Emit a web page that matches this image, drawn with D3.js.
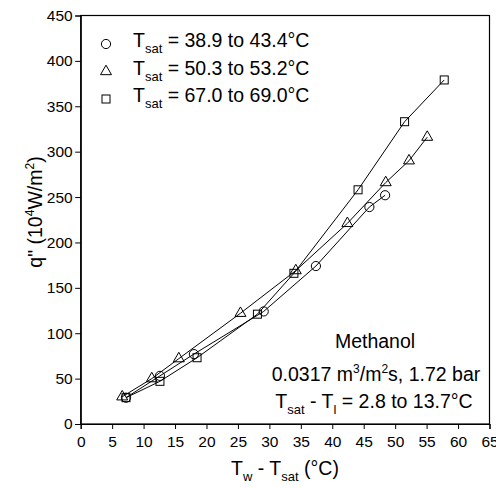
<!DOCTYPE html>
<html>
<head>
<meta charset="utf-8">
<script src="https://cdn.jsdelivr.net/npm/d3@7"></script>
<style>
  body { margin: 0; background: #fff; }
  svg { font-family: "Liberation Sans", Arial, sans-serif; }
</style>
</head>
<body>
<svg id="chart" width="496" height="488"></svg>
<script>
// data
const circleX = [7.2, 12.6, 18.0, 29.1, 37.4, 45.9, 48.4];
const circleY = [29, 53, 77, 124, 174, 239, 252];
const triX = [6.6, 11.3, 15.6, 25.4, 34.2, 42.4, 48.5, 52.2, 55.1];
const triY = [30, 50, 72, 122, 169, 221, 266, 290, 316];
const sqX = [7.2, 12.6, 18.5, 28.1, 33.9, 44.1, 51.5, 57.8];
const sqY = [29, 47, 73, 121, 166, 258, 333, 379];
const legendLabels = [
  ['38.9', '43.4'],
  ['50.3', '53.2'],
  ['67.0', '69.0']
];
const xTicks = d3.range(0, 66, 5);
const yTicks = d3.range(0, 451, 50);

const margin = { top: 15.5, right: 6.5, bottom: 64, left: 80.7 };
const W = 496, H = 488;
const big = '19.5px', sub = '13px', sup = '12px';

const svg = d3.select('#chart');

const x = d3.scaleLinear()
  .domain([0, 65])
  .range([margin.left, W - margin.right]);

const y = d3.scaleLinear()
  .domain([0, 450])
  .range([H - margin.bottom, margin.top]);

// frame
svg.append('rect')
  .attr('x', x(0))
  .attr('y', y(450))
  .attr('width', x(65) - x(0))
  .attr('height', y(0) - y(450))
  .attr('fill', 'none')
  .attr('stroke', '#000')
  .attr('stroke-width', 1.2);

const xAxis = svg.append('g')
  .attr('transform', `translate(0, ${y(0)})`)
  .call(d3.axisBottom(x).tickValues(xTicks).tickSize(5).tickPadding(6.5));

const yAxis = svg.append('g')
  .attr('transform', `translate(${x(0)}, 0)`)
  .call(d3.axisLeft(y).tickValues(yTicks).tickSize(5.5).tickPadding(2.5));

[xAxis, yAxis].forEach(a => {
  a.select('.domain').attr('stroke', '#000').attr('stroke-width', 1.2);
  a.selectAll('.tick line').attr('stroke', '#000');
  a.selectAll('.tick text')
    .attr('fill', '#000')
    .style('font-size', '15.5px')
    .style('font-family', '"Liberation Sans", Arial, sans-serif');
});

// series
const series = [
  { xs: circleX, ys: circleY, shape: 'circle' },
  { xs: triX, ys: triY, shape: 'triangle' },
  { xs: sqX, ys: sqY, shape: 'square' }
];

const line = d3.line()
  .x(d => x(d[0]))
  .y(d => y(d[1]));

function drawMarker(g, shape, cx, cy) {
  if (shape === 'circle') {
    g.append('circle')
      .attr('cx', cx).attr('cy', cy).attr('r', 4.6)
      .attr('fill', 'none').attr('stroke', '#000').attr('stroke-width', 1);
  } else if (shape === 'triangle') {
    g.append('path')
      .attr('d', d3.symbol().type(d3.symbolTriangle).size(52)())
      .attr('transform', `translate(${cx}, ${cy})`)
      .attr('fill', 'none').attr('stroke', '#000').attr('stroke-width', 1);
  } else {
    g.append('rect')
      .attr('x', cx - 4).attr('y', cy - 4)
      .attr('width', 8).attr('height', 8)
      .attr('fill', 'none').attr('stroke', '#000').attr('stroke-width', 1);
  }
}

series.forEach(s => {
  const pts = s.xs.map((v, i) => [v, s.ys[i]]);
  svg.append('path')
    .datum(pts)
    .attr('d', line)
    .attr('fill', 'none')
    .attr('stroke', '#000')
    .attr('stroke-width', 1);
  const g = svg.append('g');
  pts.forEach(p => drawMarker(g, s.shape, x(p[0]), y(p[1])));
});

// legend
const legend = svg.append('g');
legendLabels.forEach((lab, i) => {
  const ly = 44 + i * 27.5;
  drawMarker(legend, series[i].shape, 106, ly);
  const t = legend.append('text')
    .attr('x', 133)
    .attr('y', ly + 3)
    .style('font-size', big)
    .attr('fill', '#000');
  t.append('tspan').text('T');
  t.append('tspan').attr('dy', 6).style('font-size', sub).text('sat');
  t.append('tspan').attr('dy', -6).text(` = ${lab[0]} to ${lab[1]}°C`);
});

// annotations
const ann = svg.append('g').attr('text-anchor', 'middle').attr('fill', '#000').style('font-size', big);
ann.append('text').attr('x', 375).attr('y', 347.5).text('Methanol');

const a2 = ann.append('text').attr('x', 376).attr('y', 381);
a2.append('tspan').text('0.0317 m');
a2.append('tspan').attr('dy', -8).style('font-size', sup).text('3');
a2.append('tspan').attr('dy', 8).text('/m');
a2.append('tspan').attr('dy', -8).style('font-size', sup).text('2');
a2.append('tspan').attr('dy', 8).text('s, 1.72 bar');

const a3 = ann.append('text').attr('x', 374).attr('y', 408);
a3.append('tspan').text('T');
a3.append('tspan').attr('dy', 6).style('font-size', sub).text('sat');
a3.append('tspan').attr('dy', -6).text(' - T');
a3.append('tspan').attr('dy', 6).style('font-size', sub).text('l');
a3.append('tspan').attr('dy', -6).text(' = 2.8 to 13.7°C');

// axis titles
const xt = svg.append('text')
  .attr('x', 285)
  .attr('y', 475)
  .attr('text-anchor', 'middle')
  .style('font-size', big);
xt.append('tspan').text('T');
xt.append('tspan').attr('dy', 6).style('font-size', sub).text('w');
xt.append('tspan').attr('dy', -6).text(' - T');
xt.append('tspan').attr('dy', 6).style('font-size', sub).text('sat');
xt.append('tspan').attr('dy', -6).text(' (°C)');

const yt = svg.append('text')
  .attr('transform', 'translate(42, 212) rotate(-90)')
  .attr('text-anchor', 'middle')
  .style('font-size', big);
yt.append('tspan').text('q" (10');
yt.append('tspan').attr('dy', -8).style('font-size', sup).text('4');
yt.append('tspan').attr('dy', 8).text('W/m');
yt.append('tspan').attr('dy', -8).style('font-size', sup).text('2');
yt.append('tspan').attr('dy', 8).text(')');
</script>
</body>
</html>
